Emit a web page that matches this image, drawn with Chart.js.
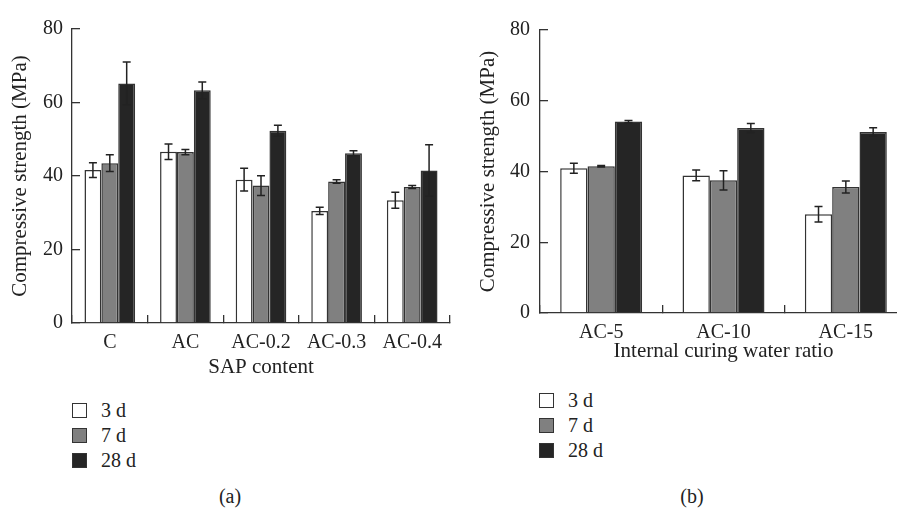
<html>
<head>
<meta charset="utf-8" />
<title>Compressive strength</title>
<script src="https://cdn.jsdelivr.net/npm/chart.js"></script>
<style>
    body { margin: 0; width: 897px; height: 509px; overflow: hidden; position: relative; background: #fff;
           font-family: "Liberation Serif", "Times New Roman", Times, "DejaVu Serif", serif; color: #222; }
    canvas { position: absolute; top: 0; }
    #chartA { left: 0; }
    #chartB { left: 460px; }
    .legend { position: absolute; font-size: 20px; }
    .legend div { height: 25px; display: flex; align-items: center; }
    .legend .box { width: 13px; height: 13px; border: 1.5px solid #333; margin-right: 14px; }
    .panel { position: absolute; font-size: 20px; transform: translate(-50%, -50%); }
</style>
</head>
<body>
<canvas id="chartA" width="460" height="385"></canvas>
<canvas id="chartB" width="460" height="385"></canvas>
<div class="legend" id="legendA" style="left:72px; top:398px;"></div>
<div class="legend" id="legendB" style="left:539px; top:388px;"></div>
<div class="panel" style="left:230px; top:496px;">(a)</div>
<div class="panel" style="left:692px; top:496px;">(b)</div>

<script>
    // curing ages
    const ages = ['3 d', '7 d', '28 d'];
    const fills = ['#ffffff', '#808080', '#252525'];

    // (a) SAP content
    const sapLabels = ['C', 'AC', 'AC-0.2', 'AC-0.3', 'AC-0.4'];
    const sap3d = [41.6, 46.6, 39.0, 30.5, 33.4];
    const sap7d = [43.5, 46.5, 37.4, 38.5, 37.0];
    const sap28d = [65.2, 63.3, 52.3, 46.2, 41.5];
    const sapErr3d = [2.0, 2.1, 3.1, 1.0, 2.2];
    const sapErr7d = [2.3, 0.7, 2.7, 0.5, 0.4];
    const sapErr28d = [5.8, 2.3, 1.5, 0.7, 7.0];

    // (b) internal curing water ratio
    const waterLabels = ['AC-5', 'AC-10', 'AC-15'];
    const water3d = [40.9, 38.9, 27.9];
    const water7d = [41.5, 37.5, 35.6];
    const water28d = [54.1, 52.3, 51.2];
    const waterErr3d = [1.4, 1.5, 2.2];
    const waterErr7d = [0.2, 2.7, 1.7];
    const waterErr28d = [0.3, 1.3, 1.2];

    const yMin = 0, yMax = 80, yStep = 20;

    const family = '"Liberation Serif", "Times New Roman", Times, "DejaVu Serif", serif';
    const font = { family: family, size: 20 };
    const titleFont = { family: family, size: 21 };

    // draws the +/- error bars on top of each bar
    const errorBars = {
        id: 'errorBars',
        afterDatasetsDraw(chart) {
            const ctx = chart.ctx;
            const y = chart.scales.y;
            ctx.save();
            ctx.strokeStyle = '#222';
            ctx.lineWidth = 1.5;
            chart.data.datasets.forEach((ds, i) => {
                chart.getDatasetMeta(i).data.forEach((bar, j) => {
                    const v = ds.data[j], e = ds.errors[j];
                    const top = y.getPixelForValue(v + e);
                    const bot = y.getPixelForValue(v - e);
                    ctx.beginPath();
                    ctx.moveTo(bar.x, top); ctx.lineTo(bar.x, bot);
                    ctx.moveTo(bar.x - 4, top); ctx.lineTo(bar.x + 4, top);
                    ctx.moveTo(bar.x - 4, bot); ctx.lineTo(bar.x + 4, bot);
                    ctx.stroke();
                });
            });
            ctx.restore();
        }
    };

    function makeChart(id, labels, series, errors, xTitle, lay) {
        return new Chart(document.getElementById(id), {
            type: 'bar',
            data: {
                labels: labels,
                datasets: series.map((d, i) => ({
                    label: ages[i],
                    data: d,
                    errors: errors[i],
                    backgroundColor: fills[i],
                    borderColor: '#333',
                    borderWidth: 1.5,
                    categoryPercentage: 0.67,
                    barPercentage: 1.0,
                }))
            },
            options: {
                responsive: false,
                animation: false,
                layout: { padding: { left: 0, right: lay.right, top: lay.top, bottom: 0 } },
                plugins: { legend: { display: false }, tooltip: { enabled: false } },
                scales: {
                    x: {
                        grid: { drawOnChartArea: false, tickLength: -8, color: '#333', lineWidth: 1.3 },
                        border: { color: '#333', width: 1.3 },
                        ticks: { font: font, color: '#222', padding: 16 },
                        title: { display: true, text: xTitle, font: titleFont, color: '#222',
                                 padding: { top: 0, bottom: lay.xTitlePad } },
                        afterFit: (s) => { s.height = lay.xHeight; }
                    },
                    y: {
                        min: yMin, max: yMax,
                        grid: { drawOnChartArea: false, tickLength: -8, color: '#333', lineWidth: 1.3 },
                        border: { color: '#333', width: 1.3 },
                        ticks: { stepSize: yStep, font: font, color: '#222', padding: lay.yTickPad },
                        title: { display: true, text: 'Compressive strength (MPa)', font: titleFont, color: '#222',
                                 padding: { top: lay.yTitlePad, bottom: 0 } },
                        afterFit: (s) => { s.width = lay.yWidth; }
                    }
                }
            },
            plugins: [errorBars]
        });
    }

    const chartA = makeChart('chartA', sapLabels, [sap3d, sap7d, sap28d], [sapErr3d, sapErr7d, sapErr28d],
        'SAP content', { right: 10, top: 16, xHeight: 62, yWidth: 72, xTitlePad: 5, yTitlePad: 8, yTickPad: 17 });
    const chartB = makeChart('chartB', waterLabels, [water3d, water7d, water28d], [waterErr3d, waterErr7d, waterErr28d],
        'Internal curing water ratio', { right: 13, top: 16, xHeight: 72, yWidth: 80, xTitlePad: 21, yTitlePad: 16, yTickPad: 18 });

    function fillLegend(id, chart) {
        const el = document.getElementById(id);
        chart.data.datasets.forEach((ds) => {
            const row = document.createElement('div');
            const box = document.createElement('span');
            box.className = 'box';
            box.style.background = ds.backgroundColor;
            row.appendChild(box);
            row.appendChild(document.createTextNode(ds.label));
            el.appendChild(row);
        });
    }
    fillLegend('legendA', chartA);
    fillLegend('legendB', chartB);
</script>
</body>
</html>
